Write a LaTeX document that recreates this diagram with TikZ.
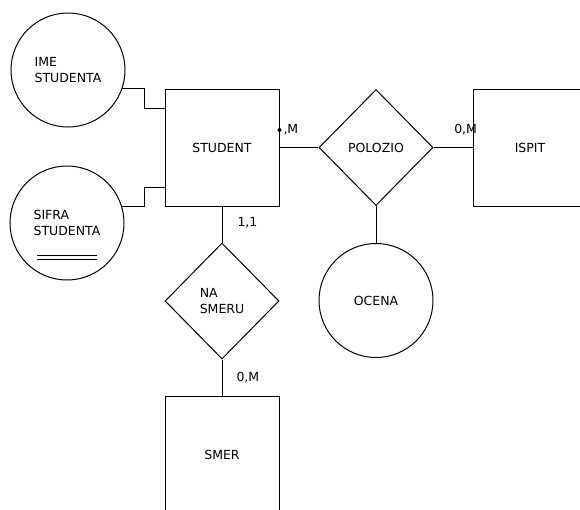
\documentclass[tikz,border=0pt]{standalone}
\usepackage{fontspec}
\setmainfont{DejaVu Sans}
\usetikzlibrary{shapes.geometric}

\begin{document}
\begin{tikzpicture}[x=1pt, y=-1pt, line width=1pt,
  every node/.style={font=\fontsize{12.5}{16}\selectfont},
  entitet/.style={draw, rectangle, minimum width=114pt, minimum height=117pt, inner sep=0pt},
  atribut/.style={draw, circle, minimum size=114pt, inner sep=0pt, align=left},
  veza/.style={draw, diamond, minimum width=114pt, minimum height=116pt, inner sep=0pt, align=left},
  kard/.style={inner sep=0pt}]
\useasboundingbox (0,0) rectangle (580,509);

% Entiteti
\node[entitet] (student) at (222,147.5) {STUDENT};
\node[entitet] (ispit)   at (530,148)   {ISPIT};
\node[entitet] (smer)    at (222,455)   {SMER};

% Veze
\node[veza] (polozio) at (376,147.5) {POLOZIO};
\node[veza] (nasmeru) at (222,301)   {NA\\SMERU};

% Atributi
\node[atribut] (ime)   at (68,70)   {IME\\STUDENTA};
\node[atribut] (sifra) at (67,223)  {SIFRA\\STUDENTA};
\node[atribut] (ocena) at (376,300.5) {OCENA};
% Kljuc (dvostruka linija)
\draw[line width=0.8pt] ([xshift=-30pt,yshift=-32pt]sifra.center) -- ++(60,0);
\draw[line width=0.8pt] ([xshift=-30pt,yshift=-36pt]sifra.center) -- ++(60,0);

% Linije
\draw (ime.-19) -| ([xshift=-20pt,yshift=-20pt]student.north west)
  -- ([yshift=-20pt]student.north west);
\draw (sifra.17) -| ([xshift=-20pt,yshift=19pt]student.south west)
  -- ([yshift=19pt]student.south west);
\draw (student) -- (polozio);
\draw (polozio.east) -- (polozio.east -| ispit.west);
\draw (polozio) -- (ocena);
\draw (student) -- (nasmeru);
\draw (nasmeru) -- (smer);

% Kardinalnosti
\node[circle, fill, inner sep=0pt, minimum size=4pt] (tacka) at ([yshift=17.5pt]student.east) {};
\node[kard, anchor=west] (k1) at ([xshift=1pt]tacka.east) {,M};
\node[kard, anchor=east] (k2) at ([xshift=5pt,yshift=18pt]ispit.west) {0,M};
\node[kard, anchor=west] (k3) at ([xshift=15pt,yshift=-16pt]student.south) {1,1};
\node[kard, anchor=west] (k4) at ([xshift=14pt,yshift=-18pt]nasmeru.south) {0,M};
\end{tikzpicture}
\end{document}
